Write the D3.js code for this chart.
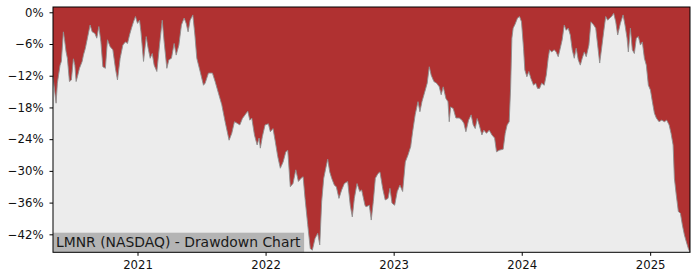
<!DOCTYPE html>
<html>
<head>
<meta charset="utf-8">
<script src="https://cdn.jsdelivr.net/npm/d3@7"></script>
<style>
  html, body { margin: 0; padding: 0; background: #ffffff; }
  svg { display: block; }
  text { font-family: "DejaVu Sans", sans-serif; }
</style>
</head>
<body>
<svg id="chart" width="700" height="280"></svg>
<script>
// ---- data (decimal year, drawdown %) ----
const years = [
  2020.342, 2020.366, 2020.376, 2020.397, 2020.407, 2020.423, 2020.434, 2020.444, 2020.454, 2020.470,
  2020.485, 2020.501, 2020.512, 2020.522, 2020.532, 2020.548, 2020.569, 2020.579, 2020.594, 2020.610,
  2020.631, 2020.647, 2020.668, 2020.683, 2020.699, 2020.715, 2020.730, 2020.750, 2020.766, 2020.787,
  2020.808, 2020.828, 2020.844, 2020.865, 2020.886, 2020.906, 2020.922, 2020.938, 2020.953, 2020.969,
  2020.984, 2021.000, 2021.016, 2021.027, 2021.047, 2021.068, 2021.083, 2021.099, 2021.115, 2021.130,
  2021.151, 2021.172, 2021.193, 2021.208, 2021.229, 2021.245, 2021.265, 2021.286, 2021.302, 2021.323,
  2021.343, 2021.364, 2021.380, 2021.395, 2021.411, 2021.432, 2021.448, 2021.463, 2021.489, 2021.515,
  2021.528, 2021.554, 2021.585, 2021.606, 2021.632, 2021.658, 2021.684, 2021.715, 2021.736, 2021.757,
  2021.778, 2021.799, 2021.819, 2021.840, 2021.861, 2021.877, 2021.892, 2021.913, 2021.934, 2021.949,
  2021.959, 2021.975, 2021.996, 2022.022, 2022.037, 2022.058, 2022.074, 2022.095, 2022.115, 2022.137,
  2022.158, 2022.173, 2022.193, 2022.214, 2022.236, 2022.256, 2022.277, 2022.293, 2022.308, 2022.329,
  2022.349, 2022.365, 2022.386, 2022.407, 2022.423, 2022.438, 2022.454, 2022.470, 2022.485, 2022.501,
  2022.516, 2022.537, 2022.552, 2022.573, 2022.594, 2022.615, 2022.641, 2022.661, 2022.677, 2022.693,
  2022.714, 2022.735, 2022.750, 2022.776, 2022.784, 2022.810, 2022.825, 2022.841, 2022.857, 2022.878,
  2022.893, 2022.914, 2022.934, 2022.956, 2022.971, 2022.987, 2023.008, 2023.028, 2023.049, 2023.070,
  2023.091, 2023.112, 2023.133, 2023.148, 2023.168, 2023.190, 2023.205, 2023.221, 2023.247, 2023.262,
  2023.278, 2023.293, 2023.314, 2023.335, 2023.356, 2023.371, 2023.387, 2023.408, 2023.424, 2023.434,
  2023.445, 2023.465, 2023.486, 2023.512, 2023.533, 2023.548, 2023.564, 2023.585, 2023.605, 2023.621,
  2023.637, 2023.652, 2023.668, 2023.689, 2023.704, 2023.725, 2023.746, 2023.767, 2023.788, 2023.803,
  2023.824, 2023.855, 2023.871, 2023.886, 2023.902, 2023.913, 2023.923, 2023.933, 2023.949, 2023.967,
  2023.983, 2023.998, 2024.014, 2024.024, 2024.040, 2024.055, 2024.071, 2024.092, 2024.108, 2024.123,
  2024.139, 2024.155, 2024.175, 2024.191, 2024.206, 2024.217, 2024.233, 2024.253, 2024.268, 2024.284,
  2024.300, 2024.315, 2024.331, 2024.346, 2024.362, 2024.378, 2024.393, 2024.409, 2024.424, 2024.440,
  2024.456, 2024.471, 2024.487, 2024.502, 2024.523, 2024.539, 2024.560, 2024.576, 2024.591, 2024.607,
  2024.622, 2024.638, 2024.654, 2024.669, 2024.685, 2024.700, 2024.716, 2024.732, 2024.747, 2024.768,
  2024.789, 2024.804, 2024.820, 2024.830, 2024.846, 2024.861, 2024.877, 2024.892, 2024.908, 2024.924,
  2024.939, 2024.955, 2024.970, 2024.986, 2025.002, 2025.017, 2025.033, 2025.048, 2025.069, 2025.090,
  2025.111, 2025.129, 2025.148, 2025.163, 2025.179, 2025.189, 2025.204, 2025.220, 2025.236, 2025.251,
  2025.267, 2025.282, 2025.298, 2025.311
];
const drawdown = [
  -12.2, -17.2, -13.4, -10.0, -9.3, -3.7, -5.6, -7.5, -8.7, -13.1,
  -12.8, -8.8, -10.0, -13.1, -12.2, -10.6, -9.3, -8.1, -6.8, -4.9,
  -2.4, -3.7, -4.0, -4.9, -2.7, -5.6, -10.3, -10.6, -5.2, -6.5,
  -7.1, -10.6, -12.8, -8.7, -6.2, -5.6, -5.9, -4.3, -3.0, -1.8,
  -0.8, -2.1, -1.5, -3.7, -9.3, -4.6, -6.8, -8.7, -7.8, -10.0,
  -11.2, -6.2, -1.5, -5.6, -10.6, -9.0, -8.7, -5.9, -8.1, -6.2,
  -2.4, -1.1, -2.1, -3.7, -1.5, -0.5, -4.3, -8.7, -11.2, -13.8,
  -13.4, -11.5, -11.5, -13.1, -15.3, -17.5, -20.7, -24.2, -22.9, -20.7,
  -21.0, -21.3, -20.1, -19.4, -18.7, -20.4, -20.0, -23.2, -25.1, -23.8,
  -25.7, -23.5, -21.3, -21.1, -22.6, -22.0, -24.2, -27.3, -29.5, -28.3,
  -26.4, -26.1, -33.0, -32.4, -29.8, -32.0, -31.4, -31.1, -35.2, -40.2,
  -44.7, -45.0, -42.8, -41.8, -44.0, -35.8, -31.4, -29.5, -27.8, -30.2,
  -31.4, -32.7, -33.0, -35.2, -33.6, -32.4, -32.0, -36.5, -38.7, -35.2,
  -32.4, -33.9, -33.6, -36.5, -36.8, -36.5, -39.3, -35.8, -31.4, -30.5,
  -30.2, -33.3, -35.5, -35.2, -33.3, -36.1, -36.5, -33.9, -32.7, -33.9,
  -28.3, -27.0, -25.4, -22.6, -19.4, -16.9, -18.8, -16.9, -14.7, -13.4,
  -10.3, -11.9, -13.1, -13.4, -14.1, -15.6, -14.1, -16.3, -16.9, -20.7,
  -17.9, -18.2, -20.0, -20.0, -20.4, -21.0, -22.6, -20.4, -19.4, -21.3,
  -22.0, -20.1, -21.3, -23.2, -22.3, -22.9, -22.3, -23.2, -23.8, -26.4,
  -26.1, -25.9, -22.9, -21.3, -20.7, -14.4, -4.9, -3.0, -2.2, -1.1,
  -0.8, -1.8, -6.8, -10.9, -12.2, -11.2, -12.5, -13.8, -13.4, -14.4,
  -14.4, -13.4, -13.8, -11.9, -8.7, -7.1, -7.5, -7.1, -7.5, -8.4,
  -6.8, -5.2, -2.4, -3.4, -3.0, -4.3, -7.1, -8.7, -6.8, -9.0,
  -10.0, -8.7, -7.5, -8.4, -6.2, -1.8, -2.4, -3.0, -6.2, -9.6,
  -6.8, -3.7, -0.8, -1.5, -1.1, -0.8, -0.2, -1.8, -4.3, -2.1,
  -0.5, -2.4, -4.9, -7.5, -3.0, -7.1, -7.8, -4.9, -4.6, -6.2,
  -5.6, -8.7, -10.0, -13.8, -14.7, -16.9, -19.1, -20.0, -20.7, -20.4,
  -20.7, -20.4, -21.3, -22.9, -25.1, -31.4, -34.6, -37.7, -38.0, -40.2,
  -42.1, -43.4, -44.7, -45.4
];
const yTickValues = [0, -6, -12, -18, -24, -30, -36, -42];
const xTickYears = [2021, 2022, 2023, 2024, 2025];
const topPad = 1.0;
const chartLabel = "LMNR (NASDAQ) - Drawdown Chart";

(function () {
  function yearToDate(v) {
    const yr = Math.floor(v);
    const s = Date.UTC(yr, 0, 1), e = Date.UTC(yr + 1, 0, 1);
    return new Date(s + (v - yr) * (e - s));
  }
  const data = years.map((v, i) => ({ date: yearToDate(v), value: drawdown[i] }));

  const mLeft = 53, mRight = 690, mTop = 7, mBottom = 252.3;
  const svg = d3.select("#chart");

  const x = d3.scaleUtc().domain(d3.extent(data, d => d.date)).range([mLeft, mRight]);
  const y = d3.scaleLinear().domain([d3.min(drawdown), topPad]).range([mBottom, mTop]);

  svg.append("rect")
    .attr("x", mLeft).attr("y", mTop)
    .attr("width", mRight - mLeft).attr("height", mBottom - mTop)
    .attr("fill", "#ececec");

  const area = d3.area()
    .x(d => x(d.date))
    .y0(y(topPad))
    .y1(d => y(d.value));
  svg.append("path").datum(data)
    .attr("d", area)
    .attr("fill", "#b03131");

  const line = d3.line().x(d => x(d.date)).y(d => y(d.value));
  svg.append("path").datum(data)
    .attr("d", line)
    .attr("fill", "none")
    .attr("stroke", "#8f8f8f")
    .attr("stroke-width", 0.9);

  const labelG = svg.append("g");
  const labelRect = labelG.append("rect").attr("fill", "#b4b4b4");
  const labelText = labelG.append("text")
    .attr("x", mLeft + 3)
    .attr("y", mBottom - 5.8)
    .attr("font-size", 13.9)
    .attr("fill", "#1a1a1a")
    .text(chartLabel);
  const bb = labelText.node().getBBox();
  labelRect
    .attr("x", mLeft)
    .attr("y", mBottom - 19.6)
    .attr("width", bb.x + bb.width + 3 - mLeft)
    .attr("height", 19.6);

  const yAxis = d3.axisLeft(y)
    .tickValues(yTickValues)
    .tickFormat(d => d3.format("d")(d) + "%")
    .tickSize(3.5)
    .tickPadding(6);
  const gy = svg.append("g")
    .attr("transform", `translate(${mLeft},0)`)
    .call(yAxis);
  gy.select(".domain").remove();
  gy.selectAll("text").attr("font-size", 11.7).attr("fill", "#111").attr("font-family", "DejaVu Sans");
  gy.selectAll("line").attr("stroke", "#000");

  const xAxis = d3.axisBottom(x)
    .tickValues(xTickYears.map(v => yearToDate(v)))
    .tickFormat(d3.utcFormat("%Y"))
    .tickSize(3.5)
    .tickPadding(5);
  const gx = svg.append("g")
    .attr("transform", `translate(0,${mBottom})`)
    .call(xAxis);
  gx.select(".domain").remove();
  gx.selectAll("text").attr("font-size", 11.7).attr("fill", "#111").attr("font-family", "DejaVu Sans");
  gx.selectAll("line").attr("stroke", "#000");

  svg.append("rect")
    .attr("x", mLeft).attr("y", mTop)
    .attr("width", mRight - mLeft).attr("height", mBottom - mTop)
    .attr("fill", "none")
    .attr("stroke", "#000")
    .attr("stroke-width", 1);
})();
</script>
</body>
</html>
